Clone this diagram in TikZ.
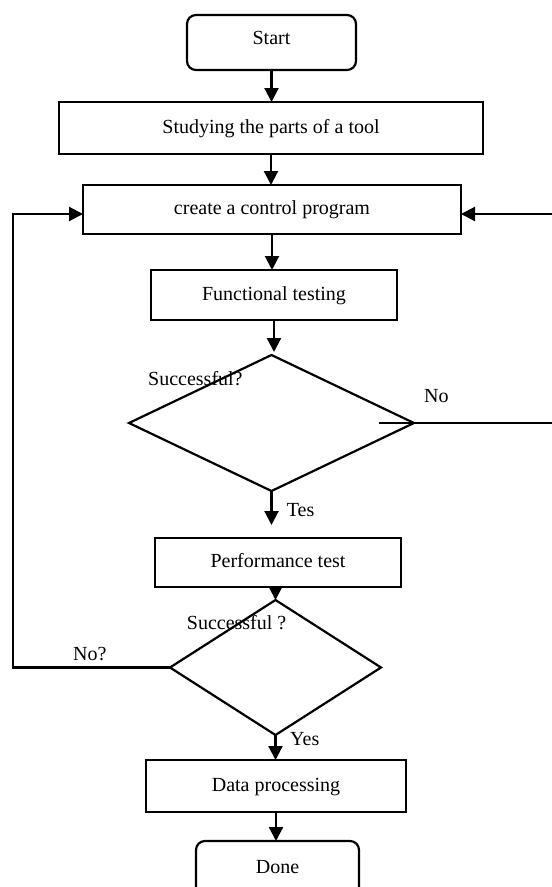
\documentclass[tikz,border=0pt]{standalone}
\usepackage{fontspec}
\setmainfont{Liberation Serif}
\usetikzlibrary{arrows.meta,shapes.geometric}
\begin{document}
\begin{tikzpicture}[x=1pt,y=-1pt,
  every node/.style={font=\fontsize{20}{24}\selectfont},
  proc/.style={draw, line width=2.2pt, inner sep=0pt, outer sep=0pt, text height=10pt, text depth=0pt},
  term/.style={proc, rounded corners=9pt},
  dec/.style={draw, diamond, line width=2.2pt, inner sep=0pt, outer sep=0pt},
  flow/.style={line width=2.2pt, -{Triangle[length=14pt,width=14pt]}},
  lbl/.style={anchor=base west, inner sep=0pt}
]
\useasboundingbox (0,0) rectangle (552,887);

% process boxes and decisions
\node[term, minimum width=169pt, minimum height=55pt, text depth=7pt] (start) at (271.5,42.5) {Start};
\node[proc, minimum width=424pt, minimum height=52pt] (study) at (271,128) {Studying the parts of a tool};
\node[proc, minimum width=378pt, minimum height=49pt] (create) at (272,209.5) {create a control program};
\node[proc, minimum width=246pt, minimum height=50pt] (func) at (274,295) {Functional testing};
\node[dec, minimum width=285pt, minimum height=136pt] (d1) at (271.5,423) {};
\node[proc, minimum width=246pt, minimum height=49pt] (perf) at (278,562.5) {Performance test};
\node[dec, minimum width=211pt, minimum height=135pt] (d2) at (275.5,667.5) {};
\node[proc, minimum width=260pt, minimum height=52pt] (data) at (276,786) {Data processing};
\node[term, minimum width=163pt, minimum height=55pt] (done) at (277.5,868.5) {Done};

% main flow
\draw[flow] (start.south) -- (start.south |- study.north);
\draw[flow] (study.south) -- (study.south |- create.north);
\draw[flow] (create.south) -- (create.south |- func.north);
\draw[flow, shorten >=3pt] (func.south) -- (func.south |- d1.north);
\draw[flow, shorten >=13pt] (d1.south) -- (d1.south |- perf.north);
\draw[flow] (d2.north |- perf.south) -- (d2.north);
\draw[flow] (d2.south) -- (d2.south |- data.north);
\draw[flow] (data.south) -- (data.south |- done.north);

% feedback loops
\coordinate (lc) at (13,667.5);
\draw[flow] (d2.west) -- (lc) |- ([yshift=-4.5pt]create.west);
\coordinate (rc) at (555,423);
\draw[flow] ([xshift=-35pt]d1.east) -- (rc) |- ([yshift=-4.5pt]create.east);

% labels
\node[lbl] (q1) at (148,385) {Successful?};
\node[lbl] (no1) at (424,402.7) {No};
\node[lbl] (tes) at (286.7,516.7) {Tes};
\node[lbl] (q2) at (186.7,629) {Successful ?};
\node[lbl] (no2) at (73,660) {No?};
\node[lbl] (yes) at (290,745) {Yes};
\end{tikzpicture}
\end{document}
